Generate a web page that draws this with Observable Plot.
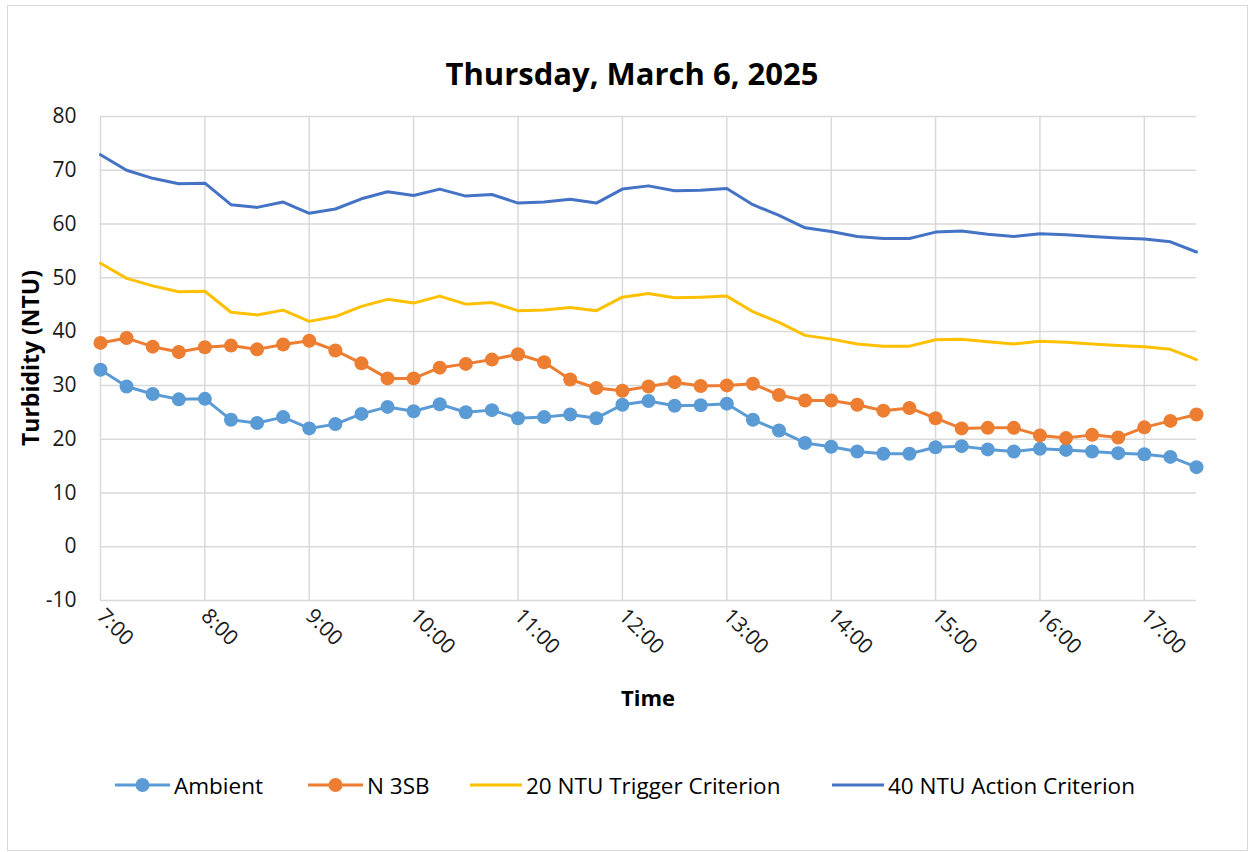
<!DOCTYPE html>
<html>
<head>
<meta charset="utf-8">
<script src="https://cdn.jsdelivr.net/npm/d3@7"></script>
<script src="https://cdn.jsdelivr.net/npm/@observablehq/plot@0.6"></script>
<style>
  body { margin: 0; background: #fff; font-family: "Open Sans", sans-serif; }
  #wrap { position: relative; width: 1253px; height: 852px; overflow: hidden; background: #fff; }
  #border { position: absolute; left: 7px; top: 5px; width: 1241px; height: 846px; border: 1px solid #d9d9d9; box-sizing: border-box; }
  #chart { position: absolute; left: 0; top: 0; }
  #title { position: absolute; left: 0; width: 1264px; top: 58px; text-align: center; font-weight: bold; font-size: 31px; color: #000; line-height: 1; }
  #ylab { position: absolute; left: 30px; top: 358px; transform: translate(-50%, -50%) rotate(-90deg); font-weight: bold; font-size: 23px; white-space: nowrap; color: #000; }
  #xlab { position: absolute; left: 648px; top: 697px; transform: translate(-50%, -50%); font-weight: bold; font-size: 22px; color: #000; }
  .leg { position: absolute; top: 771px; height: 28px; display: flex; align-items: center; font-size: 22.5px; color: #000; white-space: nowrap; }
  .leg svg { display: block; margin-right: 4px; }
</style>
</head>
<body>
<div id="wrap">
  <div id="border"></div>
  <div id="chart"></div>
  <div id="title"></div>
  <div id="ylab"></div>
  <div id="xlab"></div>
  <div id="legend"></div>
</div>
<script>
const title = "Thursday, March 6, 2025";
const yLabel = "Turbidity (NTU)";
const xLabel = "Time";

const times = [
  "7:00","7:15","7:30","7:45","8:00","8:15","8:30","8:45","9:00","9:15","9:30","9:45",
  "10:00","10:15","10:30","10:45","11:00","11:15","11:30","11:45","12:00","12:15","12:30","12:45",
  "13:00","13:15","13:30","13:45","14:00","14:15","14:30","14:45","15:00","15:15","15:30","15:45",
  "16:00","16:15","16:30","16:45","17:00","17:15","17:30"
];

const ambient = [32.9,29.8,28.4,27.4, 27.5,23.6,23.0,24.1, 22.0,22.8,24.7,26.0,
  25.2,26.5,25.0,25.4, 23.9,24.1,24.6,23.9, 26.4,27.1,26.2,26.3,
  26.6,23.6,21.6,19.3, 18.6,17.7,17.3,17.3, 18.5,18.7,18.1,17.7,
  18.2,18.0,17.7,17.4, 17.2,16.7,14.8];

const n3sb = [37.9,38.8,37.2,36.2, 37.1,37.4,36.7,37.6, 38.3,36.5,34.1,31.3,
  31.3,33.3,34.0,34.8, 35.8,34.3,31.1,29.5, 29.0,29.8,30.6,29.9,
  30.0,30.3,28.2,27.2, 27.2,26.4,25.3,25.8, 23.9,22.0,22.1,22.1,
  20.7,20.2,20.8,20.3, 22.2,23.4,24.6];

const trigger = [52.7,49.9,48.5,47.4, 47.5,43.6,43.1,44.0, 41.9,42.8,44.7,46.0,
  45.3,46.6,45.1,45.4, 43.9,44.0,44.5,43.9, 46.4,47.1,46.3,46.4,
  46.6,43.7,41.7,39.3, 38.6,37.7,37.3,37.3, 38.5,38.6,38.1,37.7,
  38.2,38.0,37.7,37.4, 37.2,36.7,34.8];

const action = [72.9,70.0,68.5,67.5, 67.6,63.6,63.1,64.1, 62.0,62.8,64.7,66.0,
  65.3,66.5,65.2,65.5, 63.9,64.1,64.6,63.9, 66.5,67.1,66.2,66.3,
  66.6,63.6,61.6,59.3, 58.6,57.7,57.3,57.3, 58.5,58.7,58.1,57.7,
  58.2,58.0,57.7,57.4, 57.2,56.7,54.8];

const seriesNames = ["Ambient", "N 3SB", "20 NTU Trigger Criterion", "40 NTU Action Criterion"];
const seriesColors = ["#5b9bd5", "#ed7d31", "#ffc000", "#4472c4"];
const seriesMarkers = [true, true, false, false];
const seriesValues = [ambient, n3sb, trigger, action];

const hourTicks = [7,8,9,10,11,12,13,14,15,16,17];
const yTicks = [-10,0,10,20,30,40,50,60,70,80];

const toHours = s => { const [h, m] = s.split(":").map(Number); return h + m / 60; };

const rows = [];
seriesNames.forEach((name, i) => {
  seriesValues[i].forEach((v, j) => rows.push({series: name, time: times[j], h: toHours(times[j]), value: v, marker: seriesMarkers[i]}));
});

document.getElementById("title").textContent = title;
document.getElementById("ylab").textContent = yLabel;
document.getElementById("xlab").textContent = xLabel;

const chart = Plot.plot({
  width: 1253,
  height: 700,
  marginTop: 116,
  marginBottom: 100,
  marginLeft: 100,
  marginRight: 57,
  style: { fontFamily: "Open Sans, sans-serif", color: "#000", background: "transparent" },
  x: { domain: [7, 17.5] },
  y: { domain: [-10, 80] },
  color: { domain: seriesNames, range: seriesColors },
  marks: [
    Plot.ruleY(yTicks, { y: d => d, stroke: "#d9d9d9", strokeWidth: 1.5 }),
    Plot.ruleX(hourTicks, { x: d => d, stroke: "#d9d9d9", strokeWidth: 1.5 }),
    Plot.axisY({ ticks: yTicks, tickFormat: d => String(d), tickSize: 0, tickPadding: 24, fontSize: 21, label: null, color: "#1a1a1a" }),
    Plot.axisX({ ticks: hourTicks, tickFormat: d => `${d}:00`, tickRotate: 45, tickSize: 0, tickPadding: 12, fontSize: 21, label: null, color: "#1a1a1a" }),
    Plot.line(rows, { x: "h", y: "value", z: "series", stroke: "series", strokeWidth: 3, strokeLinejoin: "round" }),
    Plot.dot(rows.filter(d => d.marker), { x: "h", y: "value", fill: "series", r: 7, stroke: "none" })
  ]
});
document.getElementById("chart").appendChild(chart);

// Legend
const legendX = [115, 308, 470, 832];
const legend = document.getElementById("legend");
seriesNames.forEach((name, i) => {
  const item = document.createElement("div");
  item.className = "leg";
  item.style.left = legendX[i] + "px";
  const w = i < 2 ? 55 : 52;
  const marker = seriesMarkers[i] ? `<circle cx="${w/2}" cy="14" r="7" fill="${seriesColors[i]}"/>` : "";
  item.innerHTML = `<svg width="${w}" height="28"><line x1="0" x2="${w}" y1="14" y2="14" stroke="${seriesColors[i]}" stroke-width="3"/>${marker}</svg><span>${name}</span>`;
  legend.appendChild(item);
});
</script>
</body>
</html>
